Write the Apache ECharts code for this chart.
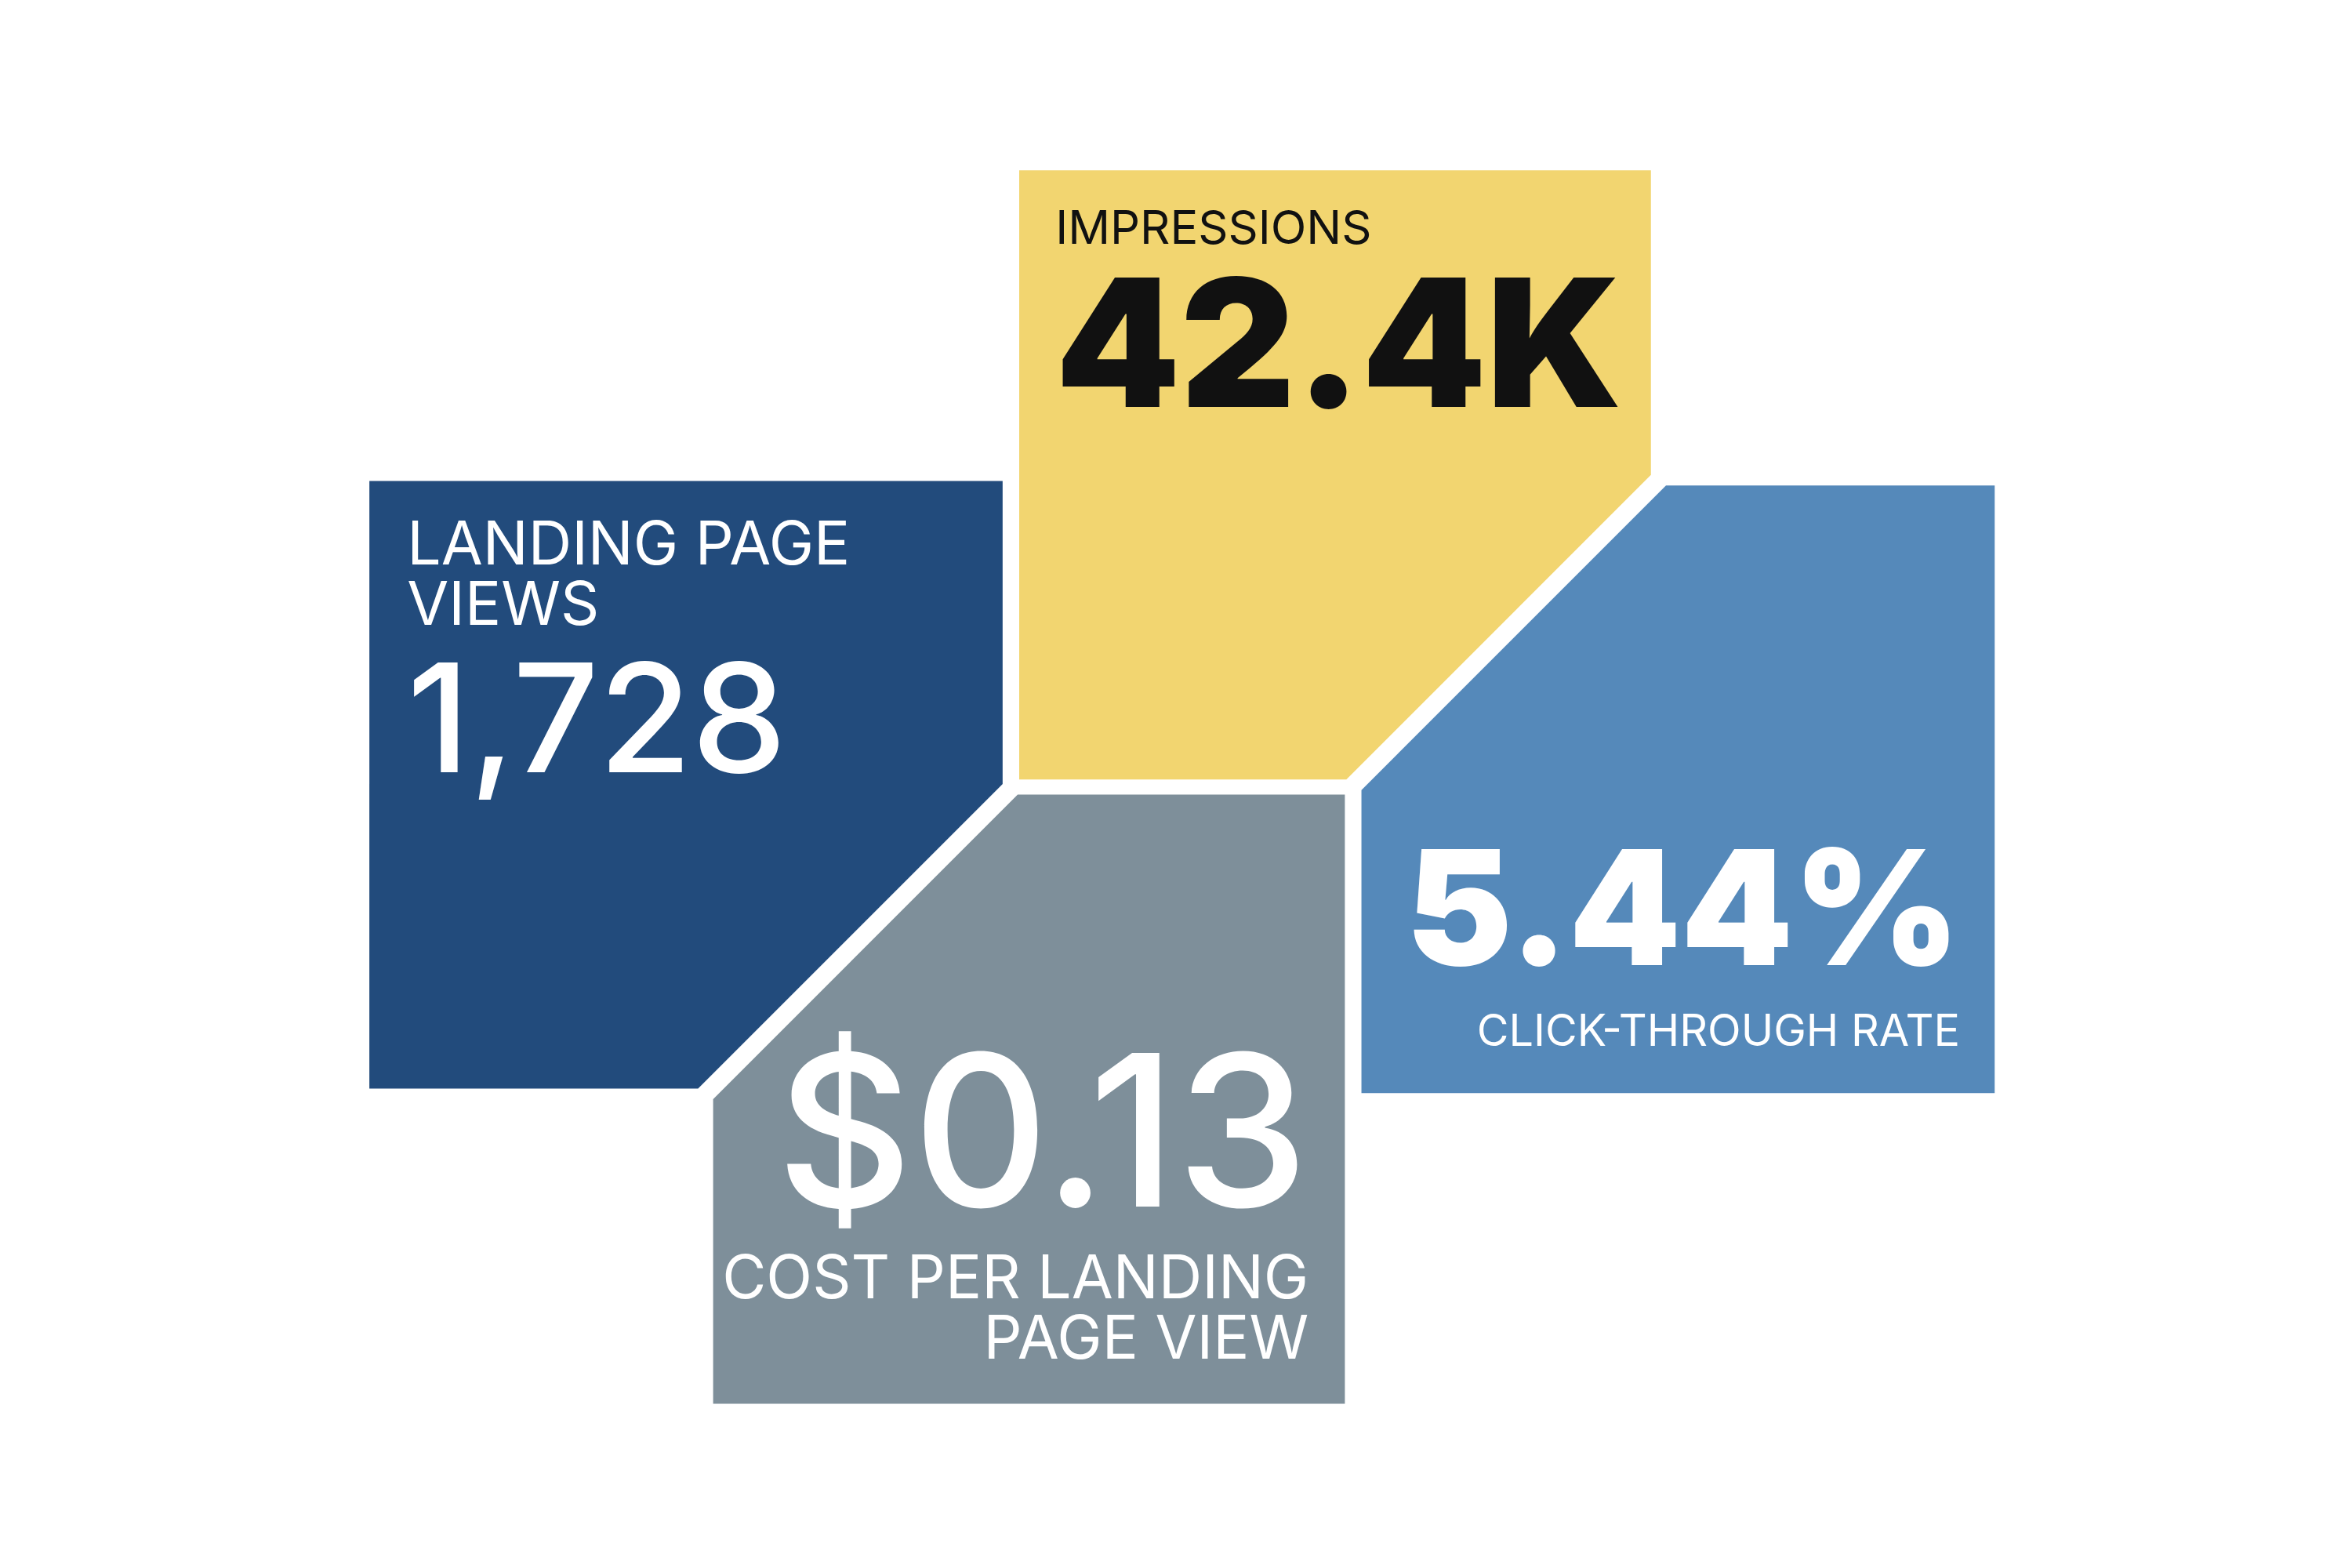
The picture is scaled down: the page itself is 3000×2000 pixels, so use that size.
<!DOCTYPE html>
<html>
<head>
<meta charset="utf-8">
<script src="https://cdn.jsdelivr.net/npm/echarts@6/dist/echarts.min.js"></script>
<style>html,body{margin:0;background:#fff}#main{width:3000px;height:2000px}</style>
</head>
<body>
<div id="main"></div>
<script>
// 指标数据
var metricNames = ['IMPRESSIONS', 'LANDING PAGE\nVIEWS', 'CLICK-THROUGH RATE', 'COST PER LANDING\nPAGE VIEW'];
var metricValues = ['42.4K', '1,728', '5.44%', '$0.13'];

// 版式（参考图坐标，宽1560 高1040）
var tileColors = ['#F2D570', '#224B7C', '#5589BA', '#7E8F9A'];
var textColors = ['#111111', '#ffffff', '#ffffff', '#ffffff'];
var tileShapes = [
  [[676,113],[1095,113],[1095,315],[893,517],[676,517]],
  [[245,319],[665,319],[665,520],[463,722],[245,722]],
  [[1105,322],[1323,322],[1323,725],[903,725],[903,524]],
  [[675,527],[892,527],[892,931],[473,931],[473,729]]
];
// [x, 名称基线, 数值基线, 对齐, 名称字号, 数值字号, 数值字重]
var textLayout = [
  [700, 162, 272, 'left', 31, 118, 900],
  [270, 375, 514, 'left', 40, 100, 500],
  [1300, 694, 642, 'right', 29, 106, 900],
  [868, 862, 803, 'right', 40, 140, 500]
];

var k = 3000 / 1560;
var myChart = echarts.init(document.getElementById('main'));

var option = {
  animation: false,
  grid: { left: 0, right: 0, top: 0, bottom: 0 },
  xAxis: { type: 'value', min: 0, max: 1560, show: false },
  yAxis: { type: 'value', min: 0, max: 1040, inverse: true, show: false },
  series: [{
    type: 'custom',
    coordinateSystem: 'cartesian2d',
    data: metricValues.map(function (v, i) { return [i]; }),
    renderItem: function (params, api) {
      var i = api.value(0);
      var L = textLayout[i];
      var pts = tileShapes[i].map(function (p) { return api.coord(p); });
      var children = [{
        type: 'polygon',
        shape: { points: pts },
        style: { fill: tileColors[i] }
      }];
      var lines = metricNames[i].split('\n');
      lines.forEach(function (t, j) {
        var p = api.coord([L[0], L[1] + j * 40 - 0.82 * L[4]]);
        children.push({
          type: 'text',
          style: {
            text: t, x: p[0], y: p[1], fill: textColors[i],
            fontSize: L[4] * k, fontWeight: 400, fontFamily: 'Inter',
            align: L[3], verticalAlign: 'top'
          }
        });
      });
      var q = api.coord([L[0], L[2] - 0.82 * L[5]]);
      children.push({
        type: 'text',
        style: {
          text: metricValues[i], x: q[0], y: q[1], fill: textColors[i],
          fontSize: L[5] * k, fontWeight: L[6], fontFamily: 'Inter',
          align: L[3], verticalAlign: 'top'
        }
      });
      return { type: 'group', children: children };
    }
  }]
};
myChart.setOption(option);
</script>
</body>
</html>
